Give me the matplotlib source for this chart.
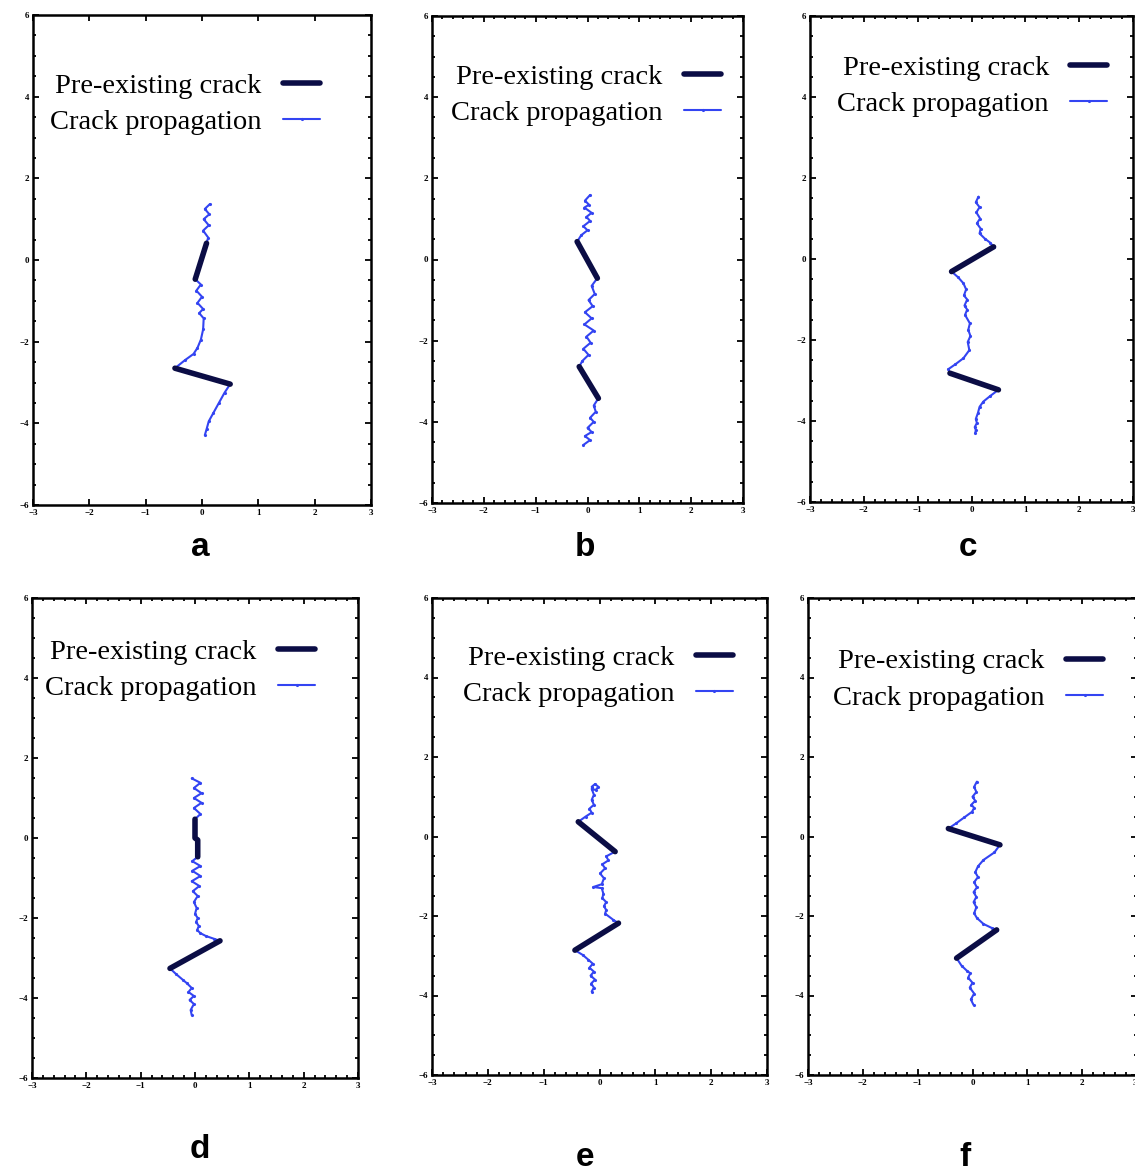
import matplotlib
matplotlib.use("Agg")
import matplotlib.pyplot as plt
from matplotlib.ticker import MultipleLocator

# ---------------- data ----------------
panel_labels = ["a", "b", "c", "d", "e", "f"]
legend_labels = ["Pre-existing crack", "Crack propagation"]

# panel a
a_prop1_x = [0.14, 0.05, 0.13, 0.03, 0.12, 0.02, 0.11, 0.08]
a_prop1_y = [1.37, 1.25, 1.12, 1.0, 0.85, 0.72, 0.55, 0.41]
a_pre1_x = [0.08, -0.12]
a_pre1_y = [0.41, -0.47]
a_prop2_x = [-0.12, -0.02, -0.1, 0.0, -0.08, 0.02, -0.05, 0.03, 0.02, -0.02, -0.08, -0.15, -0.3, -0.48]
a_prop2_y = [-0.47, -0.6, -0.75, -0.9, -1.05, -1.2, -1.3, -1.43, -1.7, -1.95, -2.15, -2.3, -2.45, -2.65]
a_pre2_x = [-0.48, 0.5]
a_pre2_y = [-2.65, -3.04]
a_prop3_x = [0.5, 0.4, 0.3, 0.2, 0.12, 0.08, 0.05]
a_prop3_y = [-3.04, -3.25, -3.5, -3.75, -3.95, -4.15, -4.29]

# panel b
b_prop1_x = [0.05, -0.05, 0.03, -0.06, 0.08, -0.02, 0.05, -0.08, 0.0, -0.12, -0.2]
b_prop1_y = [1.59, 1.45, 1.35, 1.28, 1.15, 1.05, 0.95, 0.82, 0.72, 0.6, 0.44]
b_pre1_x = [-0.2, 0.19]
b_pre1_y = [0.44, -0.46]
b_prop2_x = [0.19, 0.08, 0.14, 0.02, 0.1, -0.05, 0.08, -0.06, 0.12, -0.02, 0.06, -0.08, 0.02, -0.1, -0.16]
b_prop2_y = [-0.46, -0.65, -0.85, -1.0, -1.15, -1.3, -1.45, -1.6, -1.75, -1.9, -2.05, -2.2, -2.35, -2.5, -2.64]
b_pre2_x = [-0.16, 0.21]
b_pre2_y = [-2.64, -3.42]
b_prop3_x = [0.21, 0.12, 0.16, 0.05, 0.12, 0.0, 0.08, -0.05, 0.05, -0.08]
b_prop3_y = [-3.42, -3.6, -3.75, -3.9, -4.0, -4.15, -4.25, -4.35, -4.45, -4.57]

# panel c
c_prop1_x = [0.13, 0.08, 0.15, 0.09, 0.16, 0.1, 0.17, 0.15, 0.25, 0.35, 0.41]
c_prop1_y = [1.54, 1.4, 1.28, 1.15, 1.0, 0.88, 0.75, 0.63, 0.5, 0.4, 0.30]
c_pre1_x = [0.41, -0.37]
c_pre1_y = [0.30, -0.31]
c_prop2_x = [-0.37, -0.25, -0.15, -0.1, -0.14, -0.08, -0.13, -0.08, -0.12, -0.03, -0.06, -0.02, -0.07, -0.04, -0.15, -0.3, -0.43, -0.4]
c_prop2_y = [-0.31, -0.45, -0.6, -0.75, -0.9, -1.0, -1.15, -1.25, -1.38, -1.59, -1.75, -1.9, -2.05, -2.25, -2.45, -2.6, -2.72, -2.82]
c_pre2_x = [-0.4, 0.5]
c_pre2_y = [-2.82, -3.23]
c_prop3_x = [0.5, 0.35, 0.22, 0.15, 0.12, 0.08, 0.1, 0.06, 0.08, 0.07]
c_prop3_y = [-3.23, -3.38, -3.52, -3.65, -3.8, -3.95, -4.05, -4.15, -4.22, -4.3]

# panel d
d_prop1_x = [-0.06, 0.1, -0.02, 0.12, -0.02, 0.12, -0.02, 0.1, 0.0]
d_prop1_y = [1.49, 1.38, 1.25, 1.12, 1.0, 0.88, 0.75, 0.6, 0.47]
d_pre1_x = [0.0, 0.0, 0.05, 0.05]
d_pre1_y = [0.47, 0.0, -0.05, -0.47]
d_prop2_x = [0.05, -0.05, 0.1, -0.05, 0.1, -0.06, 0.08, -0.04, 0.05, -0.02, 0.03, 0.0, 0.05, 0.02, 0.07, 0.04, 0.1, 0.2, 0.35, 0.46]
d_prop2_y = [-0.47, -0.58, -0.7, -0.82, -0.95, -1.08, -1.2, -1.33, -1.45, -1.6, -1.75, -1.9, -2.0, -2.1, -2.2, -2.3, -2.38, -2.45, -2.52, -2.57]
d_pre2_x = [0.46, -0.46]
d_pre2_y = [-2.57, -3.26]
d_prop3_x = [-0.46, -0.35, -0.22, -0.15, -0.06, -0.12, -0.02, -0.1, -0.02, -0.08, -0.06]
d_prop3_y = [-3.26, -3.4, -3.55, -3.63, -3.75, -3.85, -3.95, -4.05, -4.15, -4.3, -4.43]

# panel e
e_prop1_x = [-0.14, -0.08, -0.02, -0.07, -0.14, -0.1, -0.14, -0.1, -0.18, -0.14, -0.25, -0.38]
e_prop1_y = [1.25, 1.32, 1.25, 1.17, 1.2, 1.05, 0.92, 0.8, 0.7, 0.6, 0.5, 0.37]
e_pre1_x = [-0.38, 0.28]
e_pre1_y = [0.37, -0.38]
e_prop2_x = [0.28, 0.12, 0.16, 0.05, 0.1, 0.01, 0.08, 0.04, -0.11, 0.04, 0.07, 0.05, 0.12, 0.08, 0.12, 0.1, 0.25, 0.34]
e_prop2_y = [-0.38, -0.5, -0.6, -0.7, -0.8, -0.93, -1.05, -1.2, -1.27, -1.3, -1.44, -1.55, -1.65, -1.75, -1.85, -1.94, -2.1, -2.18]
e_pre2_x = [0.34, -0.44]
e_pre2_y = [-2.18, -2.86]
e_prop3_x = [-0.44, -0.3, -0.2, -0.12, -0.18, -0.1, -0.16, -0.08, -0.15, -0.1, -0.14]
e_prop3_y = [-2.86, -2.98, -3.1, -3.2, -3.3, -3.4, -3.5, -3.6, -3.7, -3.8, -3.9]

# panel f
f_prop1_x = [0.08, 0.03, 0.07, 0.0, 0.05, -0.02, 0.03, -0.01, -0.15, -0.3, -0.44]
f_prop1_y = [1.38, 1.25, 1.12, 1.0, 0.9, 0.8, 0.72, 0.62, 0.48, 0.33, 0.2]
f_pre1_x = [-0.44, 0.5]
f_pre1_y = [0.2, -0.21]
f_prop2_x = [0.5, 0.4, 0.2, 0.1, 0.05, 0.1, 0.03, 0.08, 0.02, 0.07, 0.02, 0.07, 0.03, 0.08, 0.2, 0.35, 0.44]
f_prop2_y = [-0.21, -0.4, -0.59, -0.75, -0.9, -1.02, -1.15, -1.28, -1.4, -1.52, -1.65, -1.78, -1.93, -2.05, -2.2, -2.3, -2.35]
f_pre2_x = [0.44, -0.29]
f_pre2_y = [-2.35, -3.06]
f_prop3_x = [-0.29, -0.2, -0.1, -0.04, -0.08, 0.0, -0.05, 0.03, -0.03, 0.02]
f_prop3_y = [-3.06, -3.25, -3.38, -3.44, -3.55, -3.68, -3.8, -3.95, -4.1, -4.24]

x_ticks = [-3, -2, -1, 0, 1, 2, 3]
y_ticks = [-6, -4, -2, 0, 2, 4, 6]

panels = {
    "a": dict(pre=[(a_pre1_x, a_pre1_y), (a_pre2_x, a_pre2_y)],
              prop=[(a_prop1_x, a_prop1_y), (a_prop2_x, a_prop2_y), (a_prop3_x, a_prop3_y)]),
    "b": dict(pre=[(b_pre1_x, b_pre1_y), (b_pre2_x, b_pre2_y)],
              prop=[(b_prop1_x, b_prop1_y), (b_prop2_x, b_prop2_y), (b_prop3_x, b_prop3_y)]),
    "c": dict(pre=[(c_pre1_x, c_pre1_y), (c_pre2_x, c_pre2_y)],
              prop=[(c_prop1_x, c_prop1_y), (c_prop2_x, c_prop2_y), (c_prop3_x, c_prop3_y)]),
    "d": dict(pre=[(d_pre1_x, d_pre1_y), (d_pre2_x, d_pre2_y)],
              prop=[(d_prop1_x, d_prop1_y), (d_prop2_x, d_prop2_y), (d_prop3_x, d_prop3_y)]),
    "e": dict(pre=[(e_pre1_x, e_pre1_y), (e_pre2_x, e_pre2_y)],
              prop=[(e_prop1_x, e_prop1_y), (e_prop2_x, e_prop2_y), (e_prop3_x, e_prop3_y)]),
    "f": dict(pre=[(f_pre1_x, f_pre1_y), (f_pre2_x, f_pre2_y)],
              prop=[(f_prop1_x, f_prop1_y), (f_prop2_x, f_prop2_y), (f_prop3_x, f_prop3_y)]),
}

# ---------------- layout (pixels) ----------------
W, H = 1135, 1173
axes_px = {  # left, right, top, bottom
    "a": (33, 371, 15, 505),
    "b": (432, 743, 16, 503),
    "c": (810, 1133, 16, 502),
    "d": (32, 358, 598, 1078),
    "e": (432, 767, 598, 1075),
    "f": (808, 1137, 598, 1075),
}
legend_anchor = {
    "a": (0.051, 0.882),
    "b": (0.062, 0.902),
    "c": (0.085, 0.920),
    "d": (0.041, 0.915),
    "e": (0.092, 0.902),
    "f": (0.077, 0.894),
}
letter_pos = {
    "a": (200, 548), "b": (585, 548), "c": (968, 548),
    "d": (200, 1150), "e": (585, 1157), "f": (965, 1157),
}

PRE_COLOR = "#0b0d45"
PROP_COLOR = "#3344f2"

fig = plt.figure(figsize=(W / 100, H / 100), dpi=100)
fig.patch.set_facecolor("white")

for key in panel_labels:
    l, r, t, b = axes_px[key]
    ax = fig.add_axes([l / W, 1 - b / H, (r - l) / W, (b - t) / H])
    p = panels[key]
    h_pre = h_prop = None
    for (px, py) in p["prop"]:
        h_prop, = ax.plot(px, py, color=PROP_COLOR, lw=1.5, marker=".", ms=2.5,
                          solid_capstyle="round", zorder=2)
    for (px, py) in p["pre"]:
        h_pre, = ax.plot(px, py, color=PRE_COLOR, lw=4, solid_capstyle="round", zorder=3)

    ax.set_xlim(-3, 3)
    ax.set_ylim(-6, 6)
    ax.set_xticks(x_ticks)
    ax.set_yticks(y_ticks)
    ax.set_xticklabels([f"\u2212{abs(v)}" if v < 0 else str(v) for v in x_ticks])
    ax.set_yticklabels([f"\u2212{abs(v)}" if v < 0 else str(v) for v in y_ticks])
    if key != "a":
        ax.xaxis.set_minor_locator(MultipleLocator(0.2))
    ax.yaxis.set_minor_locator(MultipleLocator(0.5))
    ax.tick_params(which="both", direction="in", top=True, right=True,
                   labelsize=6.5, width=1.3, pad=3)
    ax.tick_params(which="major", length=4)
    ax.tick_params(which="minor", length=2.5)
    for lab in ax.get_xticklabels() + ax.get_yticklabels():
        lab.set_family("Liberation Serif")
        lab.set_fontweight("bold")
    if key == "f":
        ax.get_xticklabels()[-1].set_ha("right")
    for s in ax.spines.values():
        s.set_linewidth(1.8)

    ax.legend([h_pre, h_prop], legend_labels, loc="upper left",
              bbox_to_anchor=legend_anchor[key], frameon=False, markerfirst=False,
              prop={"family": "Liberation Serif", "size": 20.5},
              handlelength=1.3, handletextpad=0.75, labelspacing=0.36,
              borderpad=0, borderaxespad=0)

    fx, fy = letter_pos[key]
    fig.text(fx / W, 1 - fy / H, key, ha="center", va="center",
             fontsize=24, fontweight="bold", family="Liberation Sans")

fig.savefig("out.png", dpi=100, facecolor="white")
